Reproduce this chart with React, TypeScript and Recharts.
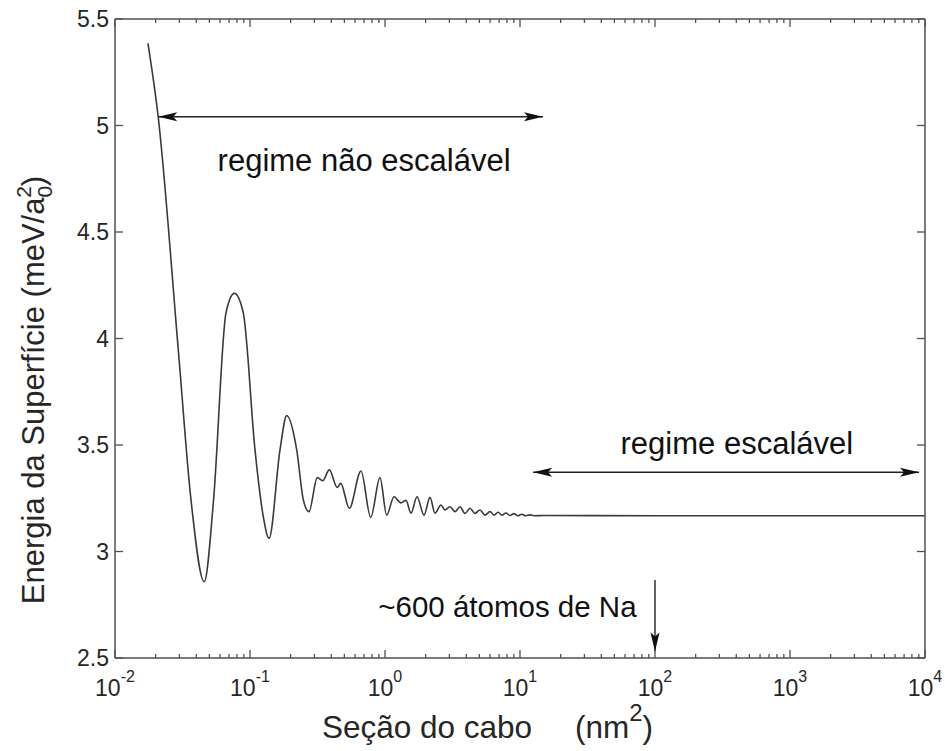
import React from 'react';
import { LineChart, Line, XAxis, YAxis, ReferenceLine, ReferenceDot, Label } from 'recharts';

// cable cross-section (nm^2) and surface energy (meV/a0^2)
const section = [
  0.01754, 0.0209, 0.02944, 0.03656, 0.0458, 0.0537, 0.0664, 0.0766, 0.0892, 0.1089,
  0.1255, 0.1384, 0.1668, 0.187, 0.2218, 0.2485, 0.2735, 0.315, 0.3455, 0.3867,
  0.4431, 0.4698, 0.5439, 0.6641, 0.7834, 0.9183, 1.029, 1.166, 1.314, 1.431,
  1.558, 1.726, 1.945, 2.154, 2.346, 2.6, 2.783, 3.031, 3.3, 3.594,
  3.914, 4.262, 4.642, 5.054, 5.505, 5.995, 6.42, 6.87, 7.35, 7.86,
  8.43, 9.0, 9.65, 10.3, 11.0, 11.86, 12.7, 15, 100, 1000, 10000,
];
const energy = [
  5.386, 5.04, 3.946, 3.242, 2.858, 3.242, 4.12, 4.212, 4.12, 3.477,
  3.163, 3.062, 3.477, 3.638, 3.477, 3.242, 3.187, 3.347, 3.332, 3.383,
  3.301, 3.32, 3.203, 3.378, 3.16, 3.347, 3.171, 3.257, 3.228, 3.24,
  3.18, 3.257, 3.171, 3.254, 3.18, 3.218, 3.195, 3.21, 3.187, 3.21,
  3.179, 3.203, 3.179, 3.195, 3.171, 3.187, 3.171, 3.184, 3.17, 3.181,
  3.169, 3.178, 3.168, 3.175, 3.168, 3.172, 3.168, 3.169, 3.168, 3.168, 3.168,
];

const xMajorTicks = [0.01, 0.1, 1, 10, 100, 1000, 10000];
const xTickExponents = ['-2', '-1', '0', '1', '2', '3', '4'];
const minorFactors = [2, 3, 4, 5, 6, 7, 8, 9];
const yTicks = [2.5, 3, 3.5, 4, 4.5, 5, 5.5];
const yTickLabels = ['2.5', '3', '3.5', '4', '4.5', '5', '5.5'];

// annotation anchors (data coords)
const leftRegime = { x1: 0.0209, x2: 14.8, y: 5.041, text: 'regime não escalável', tx: 0.7, ty: 4.84 };
const rightRegime = { x1: 12.5, x2: 9030, y: 3.372, text: 'regime escalável', tx: 404, ty: 3.51 };
const atomsMark = { x: 100, y1: 2.866, y2: 2.53, text: '~600 átomos de Na', tx: 8.07, ty: 2.744 };

const xAllTicks = [
  ...xMajorTicks,
  ...xMajorTicks.slice(0, -1).flatMap((d) => minorFactors.map((f) => f * d)),
];

const data = section.map((s, i) => ({ s, e: energy[i] }));

const axisColor = '#505050';
const textColor = '#262626';
const font = '"Liberation Sans", Arial, sans-serif';

// plot box edges in px: x 115..925, y 19..658
const xTick = (top: boolean) => (props: any) => {
  const { x, y, payload } = props;
  const idx = xMajorTicks.indexOf(payload.value);
  const len = idx >= 0 ? 8 : 4;
  return (
    <g>
      <line x1={x} y1={y} x2={x} y2={top ? y + len : y - len} stroke={axisColor} strokeWidth={1.3} />
      {!top && idx >= 0 && (
        <text x={x} y={y + 38} textAnchor="middle" fontSize={23} fill={textColor} fontFamily={font}>
          10
          <tspan dy={-14} fontSize={16}>
            {xTickExponents[idx]}
          </tspan>
        </text>
      )}
    </g>
  );
};

const yTick = (right: boolean) => (props: any) => {
  const { x, y, payload } = props;
  const idx = yTicks.indexOf(payload.value);
  return (
    <g>
      <line x1={x} y1={y} x2={right ? x - 8 : x + 8} y2={y} stroke={axisColor} strokeWidth={1.3} />
      {!right && (
        <text x={x - 6} y={y} dy="0.36em" textAnchor="end" fontSize={23} fill={textColor} fontFamily={font}>
          {yTickLabels[idx]}
        </text>
      )}
    </g>
  );
};

const arrowHead = (tx: number, ty: number, fx: number, fy: number) => {
  const dx = tx - fx;
  const dy = ty - fy;
  const d = Math.sqrt(dx * dx + dy * dy) || 1;
  const ux = dx / d;
  const uy = dy / d;
  const L = 19;
  const W = 4.5;
  const bx = tx - ux * L;
  const by = ty - uy * L;
  return `${tx},${ty} ${bx - uy * W},${by + ux * W} ${tx - ux * (L - 4)},${ty - uy * (L - 4)} ${bx + uy * W},${by - ux * W}`;
};

const arrowShape = (both: boolean) => (props: any) => {
  const { x1, y1, x2, y2 } = props;
  return (
    <g>
      <line x1={x1} y1={y1} x2={x2} y2={y2} stroke="#222" strokeWidth={1.4} />
      <polygon points={arrowHead(x2, y2, x1, y1)} fill="#111" />
      {both && <polygon points={arrowHead(x1, y1, x2, y2)} fill="#111" />}
    </g>
  );
};

const xTitle = (props: any) => {
  const { viewBox } = props;
  const baseY = viewBox.y + 80;
  return (
    <g fontFamily={font} fill={textColor}>
      <text x={427} y={baseY} textAnchor="middle" fontSize={31.5}>
        Seção do cabo
      </text>
      <text x={575} y={baseY} textAnchor="start" fontSize={31.5}>
        (nm
        <tspan dy={-17} fontSize={24}>
          2
        </tspan>
        <tspan dy={17}>)</tspan>
      </text>
    </g>
  );
};

const yTitle = () => {
  const cx = 44;
  const cy = 390;
  return (
    <text
      x={cx}
      y={cy}
      transform={`rotate(-90, ${cx}, ${cy})`}
      textAnchor="middle"
      fontSize={31}
      fill={textColor}
      fontFamily={font}
    >
      Energia da Superfície (meV/a
      <tspan dy={8} fontSize={21}>
        0
      </tspan>
      <tspan dx={-12} dy={-21} fontSize={21}>
        2
      </tspan>
      <tspan dy={13}>)</tspan>
    </text>
  );
};

const noteLabel = (value: string, size: number) => ({
  value,
  position: 'center' as const,
  fontSize: size,
  fill: '#111',
  fontFamily: font,
});

export default function App() {
  return (
    <div style={{ position: 'absolute', left: 0, top: 0, background: '#fff' }}>
      <LineChart width={945} height={751} data={data} margin={{ top: 9, right: 9, bottom: 63, left: 85 }}>
        <XAxis
          dataKey="s"
          type="number"
          scale="log"
          domain={[0.01, 10000]}
          allowDataOverflow
          ticks={xAllTicks}
          interval={0}
          height={30}
          tickSize={0}
          tickMargin={0}
          tickLine={false}
          axisLine={{ stroke: axisColor, strokeWidth: 1.5 }}
          tick={xTick(false)}
        >
          <Label content={xTitle} />
        </XAxis>
        <XAxis
          xAxisId="top"
          orientation="top"
          dataKey="s"
          type="number"
          scale="log"
          domain={[0.01, 10000]}
          allowDataOverflow
          ticks={xAllTicks}
          interval={0}
          height={10}
          tickSize={0}
          tickMargin={0}
          tickLine={false}
          axisLine={{ stroke: axisColor, strokeWidth: 1.5 }}
          tick={xTick(true)}
        />
        <YAxis
          type="number"
          domain={[2.5, 5.5]}
          allowDataOverflow
          ticks={yTicks}
          interval={0}
          width={30}
          tickSize={0}
          tickMargin={0}
          tickLine={false}
          axisLine={{ stroke: axisColor, strokeWidth: 1.5 }}
          tick={yTick(false)}
        >
          <Label content={yTitle} />
        </YAxis>
        <YAxis
          yAxisId="right"
          orientation="right"
          type="number"
          domain={[2.5, 5.5]}
          allowDataOverflow
          ticks={yTicks}
          interval={0}
          width={11}
          tickSize={0}
          tickMargin={0}
          tickLine={false}
          axisLine={{ stroke: axisColor, strokeWidth: 1.5 }}
          tick={yTick(true)}
        />
        <Line
          type="monotone"
          dataKey="e"
          stroke="#3a3a3a"
          strokeWidth={1.6}
          dot={false}
          activeDot={false}
          isAnimationActive={false}
        />
        <ReferenceLine
          segment={[
            { x: leftRegime.x1, y: leftRegime.y },
            { x: leftRegime.x2, y: leftRegime.y },
          ]}
          ifOverflow="visible"
          shape={arrowShape(true)}
        />
        <ReferenceLine
          segment={[
            { x: rightRegime.x1, y: rightRegime.y },
            { x: rightRegime.x2, y: rightRegime.y },
          ]}
          ifOverflow="visible"
          shape={arrowShape(true)}
        />
        <ReferenceLine
          segment={[
            { x: atomsMark.x, y: atomsMark.y1 },
            { x: atomsMark.x, y: atomsMark.y2 },
          ]}
          ifOverflow="visible"
          shape={arrowShape(false)}
        />
        <ReferenceDot x={leftRegime.tx} y={leftRegime.ty} r={1} fill="none" stroke="none" label={noteLabel(leftRegime.text, 31)} />
        <ReferenceDot x={rightRegime.tx} y={rightRegime.ty} r={1} fill="none" stroke="none" label={noteLabel(rightRegime.text, 31)} />
        <ReferenceDot x={atomsMark.tx} y={atomsMark.ty} r={1} fill="none" stroke="none" label={noteLabel(atomsMark.text, 29.5)} />
      </LineChart>
    </div>
  );
}
